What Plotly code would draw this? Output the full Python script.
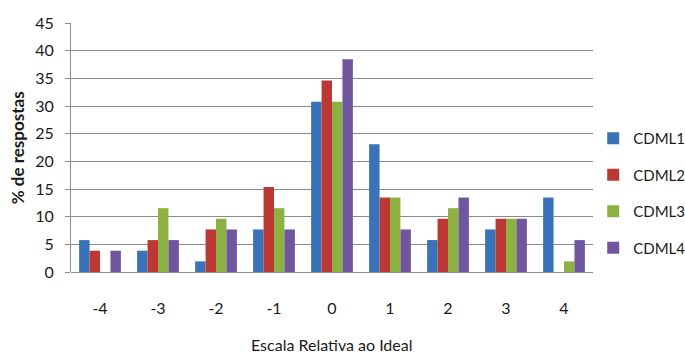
import plotly.graph_objects as go

# Relative-to-ideal scale categories and response percentages per sample
categories = ["-4", "-3", "-2", "-1", "0", "1", "2", "3", "4"]
cdml1 = [5.77, 3.85, 1.92, 7.69, 30.77, 23.08, 5.77, 7.69, 13.46]
cdml2 = [3.85, 5.77, 7.69, 15.38, 34.62, 13.46, 9.62, 9.62, 0.0]
cdml3 = [0.0, 11.54, 9.62, 11.54, 30.77, 13.46, 11.54, 9.62, 1.92]
cdml4 = [3.85, 5.77, 7.69, 7.69, 38.46, 7.69, 13.46, 9.62, 5.77]

series_names = ["CDML1", "CDML2", "CDML3", "CDML4"]
series_values = [cdml1, cdml2, cdml3, cdml4]
series_colors = ["#3A72BA", "#BC3834", "#8DB243", "#70569D"]
y_ticks = [0, 5, 10, 15, 20, 25, 30, 35, 40, 45]

FONT = "Lato, 'Liberation Sans', Arial, sans-serif"
GRID = "#8C8C8C"

fig = go.Figure()
for name, vals, color in zip(series_names, series_values, series_colors):
    fig.add_trace(go.Bar(
        x=categories,
        y=vals,
        name=name,
        legendgroup=name,
        marker=dict(color=color, line=dict(width=0)),
    ))

fig.update_layout(
    width=685,
    height=354,
    margin=dict(l=71, r=92, t=23, b=82, autoexpand=False),
    paper_bgcolor="white",
    plot_bgcolor="white",
    barmode="group",
    bargap=0.28,
    bargroupgap=0.0,
    font=dict(family=FONT, size=16, color="#1a1a1a"),
    showlegend=True,
    legend=dict(
        xref="container", yref="container",
        x=0.866, xanchor="left",
        y=0.455, yanchor="middle",
        traceorder="grouped",
        tracegroupgap=14,
        itemwidth=30,
        font=dict(family=FONT, size=15, color="#1a1a1a"),
        bgcolor="rgba(0,0,0,0)",
    ),
    xaxis=dict(
        type="category",
        categoryorder="array",
        categoryarray=categories,
        showgrid=False,
        showline=False,
        ticks="",
        ticklabelstandoff=25,
        tickfont=dict(family=FONT, size=16),
        automargin=False,
    ),
    yaxis=dict(
        range=[0, 45],
        tickvals=y_ticks,
        ticktext=[str(v) for v in y_ticks],
        showgrid=True,
        gridcolor=GRID,
        gridwidth=1,
        zeroline=True,
        zerolinecolor=GRID,
        zerolinewidth=1,
        showline=True,
        linecolor=GRID,
        linewidth=1,
        ticks="outside",
        ticklen=5,
        tickcolor=GRID,
        ticklabelstandoff=8,
        tickfont=dict(family=FONT, size=16),
        automargin=False,
    ),
    annotations=[
        dict(
            text="<b>% de respostas</b>",
            xref="paper", yref="paper",
            x=-0.102, y=0.50,
            xanchor="center", yanchor="middle",
            textangle=-90,
            showarrow=False,
            font=dict(family=FONT, size=17, color="#1a1a1a"),
        ),
        dict(
            text="Escala Relativa ao Ideal",
            xref="paper", yref="paper",
            x=0.5, y=-0.29,
            xanchor="center", yanchor="middle",
            showarrow=False,
            font=dict(family=FONT, size=16, color="#1a1a1a"),
        ),
    ],
)

fig.write_html("out.html")
